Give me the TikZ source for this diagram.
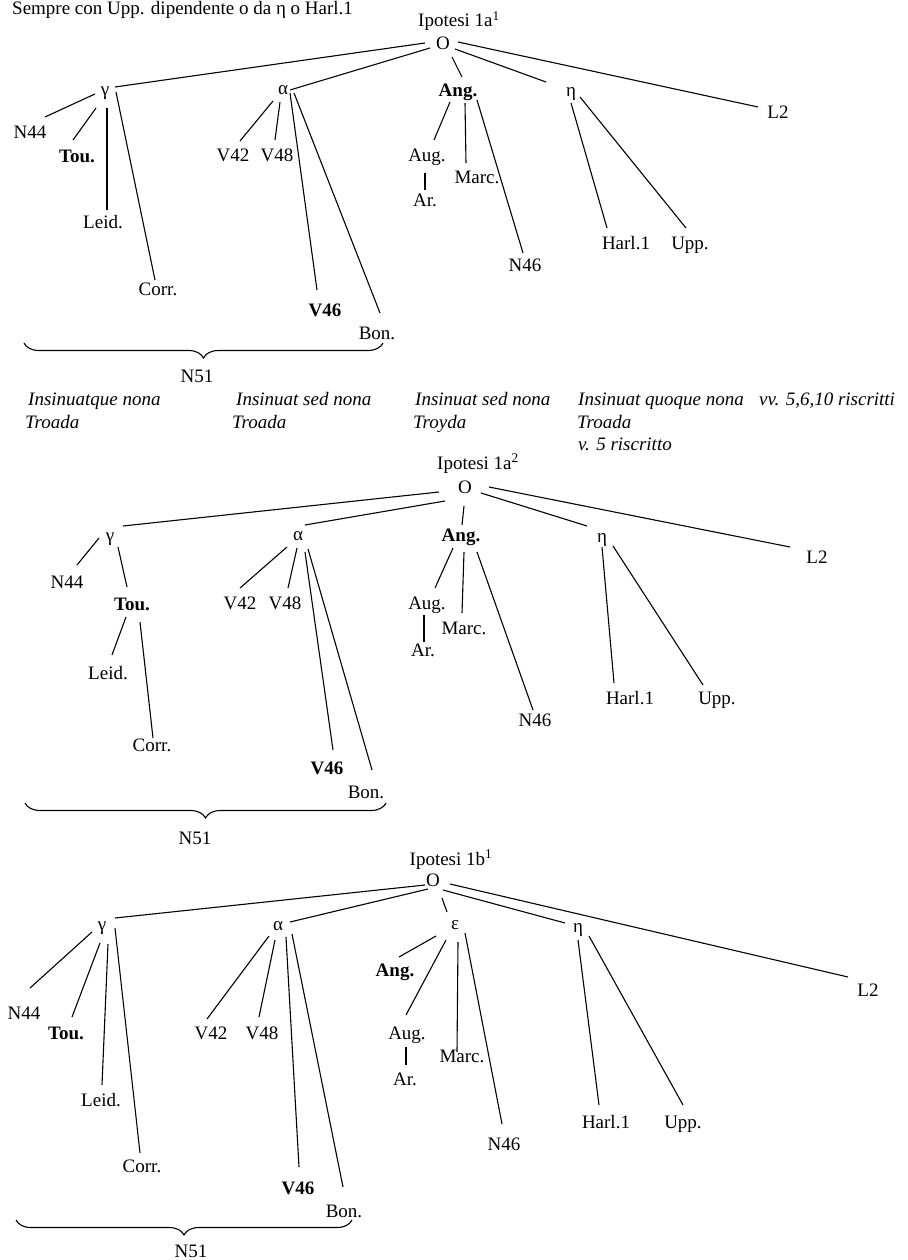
\documentclass[tikz,border=0pt]{standalone}
\usepackage{fontspec}
\setmainfont{Liberation Serif}
\usetikzlibrary{calc,decorations.pathreplacing}
\newcommand\conn[4]{\draw[ln] ($(#1)+(#2)$) -- ($(#3)+(#4)$);}
\begin{document}
\begin{tikzpicture}[x=1pt,y=-1pt,
  every node/.style={inner sep=0pt,font=\fontsize{19}{23}\selectfont},
  lbl/.style={text height=12.6pt,text depth=0pt},
  grk/.style={text height=8.6pt,text depth=0pt},
  bld/.style={lbl,font=\fontsize{19}{23}\selectfont\bfseries},
  ttl/.style={anchor=base},
  capt/.style={anchor=base west,font=\fontsize{19}{23}\selectfont\itshape},
  ln/.style={line width=1.1pt},
  brc/.style={line width=1.1pt,decorate,decoration={brace,amplitude=15pt,mirror}}]
\useasboundingbox[fill=white] (0,0) rectangle (907,1260);

\node[anchor=base west] (hdr) at (12,15) {Sempre con Upp. dipendente o da η o Harl.1};

% ---------------- Tree 1 ----------------
\node[ttl] (T1) at (459,27) {Ipotesi 1a\textsuperscript{1}};
\node[lbl] (O1) at (443,43) {O};
\node[grk] (g1) at (105,91) {γ};
\node[grk] (a1) at (283,90) {α};
\node[bld] (A1) at (458,90) {Ang.};
\node[grk] (h1) at (571,92) {η};
\node[lbl] (L1) at (778,112) {L2};
\node[lbl] (N44a) at (30,132) {N44};
\node[bld] (Tou1) at (77,156) {Tou.};
\node[lbl] (Leid1) at (103,222) {Leid.};
\node[lbl] (Corr1) at (158,289) {Corr.};
\node[lbl] (V42a) at (233,155) {V42};
\node[lbl] (V48a) at (277,155) {V48};
\node[bld] (V46a) at (325,310) {V46};
\node[lbl] (Bon1) at (377,333) {Bon.};
\node[lbl] (Aug1) at (427,155) {Aug.};
\node[lbl] (Ar1) at (425,200) {Ar.};
\node[lbl] (Marc1) at (477,177) {Marc.};
\node[lbl] (N46a) at (525,265) {N46};
\node[lbl] (Harl1) at (626,243) {Harl.1};
\node[lbl] (Upp1) at (690,243) {Upp.};
\coordinate (br1l) at (24,343);
\coordinate (br1r) at (383,343);
\draw[brc] (br1l) -- (br1r);
\node[lbl] (N51a) at (197,376) {N51};

\conn{O1}{-18,0}{g1}{10,-4}
\conn{O1}{-13,5}{a1}{7,0}
\conn{O1}{9,14}{A1}{4,-13}
\conn{O1}{12,6}{h1}{-25,-10}
\conn{O1}{15,-1}{L1}{-20,-5}
\conn{g1}{-10,3}{N44a}{15,-15}
\conn{g1}{-9,17}{Tou1}{-4,-16}
\conn{g1}{2,17}{Leid1}{4,-12}
\conn{g1}{11,1}{Corr1}{-3,-9}
\conn{a1}{-10,11}{V42a}{7,-14}
\conn{a1}{-3,12}{V48a}{-2,-15}
\conn{a1}{7,3}{V46a}{-8,-20}
\conn{a1}{11,3}{Bon1}{3,-20}
\conn{A1}{-8,12}{Aug1}{7,-15}
\conn{Aug1}{-2,18}{Ar1}{0,-10}
\conn{A1}{7,13}{Marc1}{-11,-14}
\conn{A1}{19,10}{N46a}{-2,-12}
\conn{h1}{0,11}{Harl1}{-19,-15}
\conn{h1}{9,5}{Upp1}{-4,-15}

% captions
\node[capt] (c1a) at (28,405) {Insinuatque nona};
\node[capt] (c1b) at (25,428) {Troada};
\node[capt] (c2a) at (236,405) {Insinuat sed nona};
\node[capt] (c2b) at (232,428) {Troada};
\node[capt] (c3a) at (415,405) {Insinuat sed nona};
\node[capt] (c3b) at (413,428) {Troyda};
\node[capt] (c4a) at (578,405) {Insinuat quoque nona};
\node[capt] (c4b) at (577,428) {Troada};
\node[capt] (c4c) at (578,450) {v. 5 riscritto};
\node[capt] (c5a) at (759,405) {vv. 5,6,10 riscritti};

% ---------------- Tree 2 ----------------
\node[ttl] (T2) at (478,469) {Ipotesi 1a\textsuperscript{2}};
\node[lbl] (O2) at (465,487) {O};
\node[grk] (g2) at (110,537) {γ};
\node[grk] (a2) at (298,536) {α};
\node[bld] (A2) at (461,535) {Ang.};
\node[grk] (h2) at (602,538) {η};
\node[lbl] (L2b) at (817,557) {L2};
\node[lbl] (N44b) at (67,582) {N44};
\node[bld] (Tou2) at (132,604) {Tou.};
\node[lbl] (Leid2) at (108,673) {Leid.};
\node[lbl] (Corr2) at (152,745) {Corr.};
\node[lbl] (V42b) at (240,603) {V42};
\node[lbl] (V48b) at (285,603) {V48};
\node[bld] (V46b) at (327,768) {V46};
\node[lbl] (Bon2) at (366,792) {Bon.};
\node[lbl] (Aug2) at (427,603) {Aug.};
\node[lbl] (Ar2) at (423,650) {Ar.};
\node[lbl] (Marc2) at (464,628) {Marc.};
\node[lbl] (N46b) at (535,720) {N46};
\node[lbl] (Harl2) at (630,698) {Harl.1};
\node[lbl] (Upp2) at (717,698) {Upp.};
\coordinate (br2l) at (25,803);
\coordinate (br2r) at (386,803);
\draw[brc] (br2l) -- (br2r);
\node[lbl] (N51b) at (195,838) {N51};

\conn{O2}{-26,5}{g2}{13,-11}
\conn{O2}{-20,14}{a2}{7,-11}
\conn{O2}{-1,19}{A2}{1,-10}
\conn{O2}{16,6}{h2}{-15,-12}
\conn{O2}{24,0}{L2b}{-27,-10}
\conn{g2}{-11,1}{N44b}{10,-17}
\conn{g2}{8,10}{Tou2}{-5,-17}
\conn{Tou2}{-6,13}{Leid2}{4,-18}
\conn{Tou2}{8,18}{Corr2}{1,-7}
\conn{a2}{-11,11}{V42b}{0,-15}
\conn{a2}{-1,12}{V48b}{3,-15}
\conn{a2}{7,16}{V46b}{6,-18}
\conn{a2}{10,13}{Bon2}{6,-22}
\conn{A2}{-8,13}{Aug2}{8,-15}
\conn{Aug2}{-3,12}{Ar2}{1,-8}
\conn{A2}{3,17}{Marc2}{-2,-15}
\conn{A2}{16,17}{N46b}{-2,-10}
\conn{h2}{0,9}{Harl2}{-16,-15}
\conn{h2}{11,8}{Upp2}{-14,-13}

% ---------------- Tree 3 ----------------
\node[ttl] (T3) at (451,865) {Ipotesi 1b\textsuperscript{1}};
\node[lbl] (O3) at (433,880) {O};
\node[grk] (g3) at (102,926) {γ};
\node[grk] (a3) at (278,926) {α};
\node[grk] (e3) at (455,925) {ε};
\node[grk] (h3) at (578,928) {η};
\node[lbl] (L3) at (868,990) {L2};
\node[lbl] (N44c) at (24,1013) {N44};
\node[bld] (Tou3) at (66,1033) {Tou.};
\node[lbl] (Leid3) at (101,1100) {Leid.};
\node[lbl] (Corr3) at (142,1166) {Corr.};
\node[lbl] (V42c) at (211,1033) {V42};
\node[lbl] (V48c) at (262,1033) {V48};
\node[bld] (V46c) at (298,1188) {V46};
\node[lbl] (Bon3) at (344,1211) {Bon.};
\node[bld] (A3) at (395,970) {Ang.};
\node[lbl] (Aug3) at (407,1033) {Aug.};
\node[lbl] (Ar3) at (405,1079) {Ar.};
\node[lbl] (Marc3) at (462,1056) {Marc.};
\node[lbl] (N46c) at (504,1144) {N46};
\node[lbl] (Harl3) at (606,1122) {Harl.1};
\node[lbl] (Upp3) at (683,1122) {Upp.};
\coordinate (br3l) at (16,1220);
\coordinate (br3r) at (352,1220);
\draw[brc] (br3l) -- (br3r);
\node[lbl] (N51c) at (191,1251) {N51};

\conn{O3}{-8,5}{g3}{13,-8}
\conn{O3}{-5,9}{a3}{12,-4}
\conn{O3}{9,18}{e3}{-8,-13}
\conn{O3}{10,10}{h3}{-13,-5}
\conn{O3}{17,4}{L3}{-20,-13}
\conn{g3}{-10,6}{N44c}{6,-25}
\conn{g3}{-2,17}{Tou3}{6,-16}
\conn{g3}{6,18}{Leid3}{1,-15}
\conn{g3}{13,2}{Corr3}{-2,-13}
\conn{a3}{-9,10}{V42c}{-4,-14}
\conn{a3}{-3,14}{V48c}{-3,-16}
\conn{a3}{8,11}{V46c}{1,-21}
\conn{a3}{14,8}{Bon3}{-1,-24}
\conn{e3}{-19,11}{A3}{4,-13}
\conn{e3}{-9,15}{Aug3}{-1,-18}
\conn{Aug3}{-1,14}{Ar3}{1,-14}
\conn{e3}{3,17}{Marc3}{-5,-4}
\conn{e3}{10,8}{N46c}{-2,-20}
\conn{h3}{0,12}{Harl3}{-7,-17}
\conn{h3}{11,8}{Upp3}{0,-17}
\end{tikzpicture}
\end{document}
